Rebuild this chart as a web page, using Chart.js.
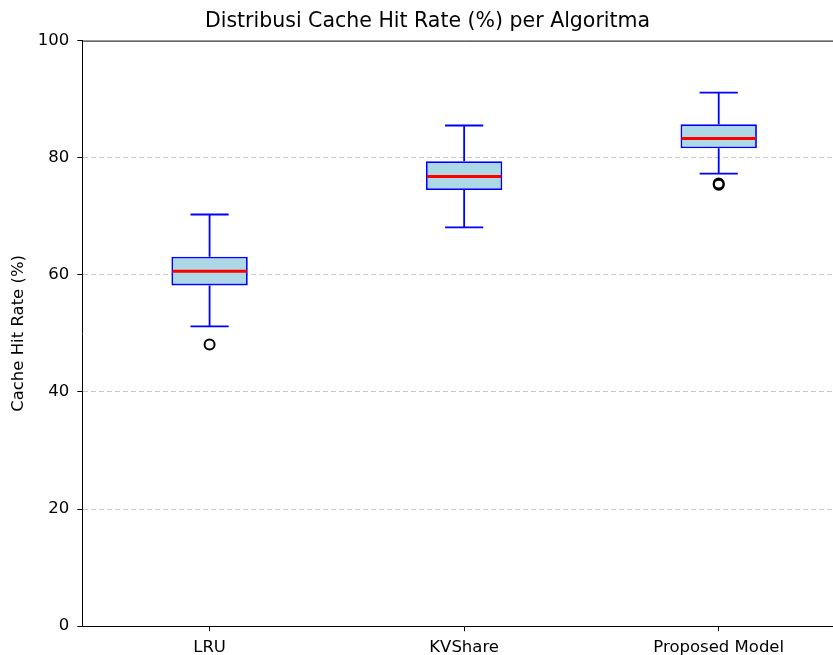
<!DOCTYPE html>
<html>
<head>
<meta charset="utf-8">
<script src="https://cdn.jsdelivr.net/npm/chart.js@4.4.1/dist/chart.umd.min.js"></script>
<style>
  html, body { margin: 0; padding: 0; background: #fff; overflow: hidden; }
  #wrap { width: 833px; height: 655px; overflow: hidden; }
</style>
</head>
<body>
<div id="wrap"><canvas id="boxChart" width="860" height="665"></canvas></div>
<script>
// algorithms on the x axis
var algorithms = ['LRU', 'KVShare', 'Proposed Model'];

// box plot statistics (Cache Hit Rate %)
var whiskerLow  = [51.2, 68.1, 77.3];
var q1          = [58.2, 74.5, 81.6];
var median      = [60.6, 76.8, 83.3];
var q3          = [63.1, 79.4, 85.7];
var whiskerHigh = [70.3, 85.5, 91.1];

// outliers (two close points for the proposed model)
var outliersA = [48.1, null, 75.4];
var outliersB = [null, null, 75.6];

var yTicks = [0, 20, 40, 60, 80, 100];

// draw whiskers, caps, medians and the top spine using the chart scales
var boxExtras = {
    id: 'boxExtras',
    afterDatasetsDraw: function(chart) {
        var c = chart.ctx;
        var xs = chart.scales.x;
        var ys = chart.scales.y;
        var catW = xs.getPixelForValue(1) - xs.getPixelForValue(0);
        var capHalf = catW * 0.075;
        var boxHalf = catW * 0.15;
        c.save();
        for (var i = 0; i < algorithms.length; i++) {
            var cx = xs.getPixelForValue(i);
            c.strokeStyle = 'blue';
            c.lineWidth = 1.8;
            c.beginPath();
            c.moveTo(cx, ys.getPixelForValue(q3[i]));
            c.lineTo(cx, ys.getPixelForValue(whiskerHigh[i]));
            c.moveTo(cx, ys.getPixelForValue(q1[i]));
            c.lineTo(cx, ys.getPixelForValue(whiskerLow[i]));
            c.moveTo(cx - capHalf, ys.getPixelForValue(whiskerHigh[i]));
            c.lineTo(cx + capHalf, ys.getPixelForValue(whiskerHigh[i]));
            c.moveTo(cx - capHalf, ys.getPixelForValue(whiskerLow[i]));
            c.lineTo(cx + capHalf, ys.getPixelForValue(whiskerLow[i]));
            c.stroke();

            c.strokeStyle = 'red';
            c.lineWidth = 3;
            c.beginPath();
            c.moveTo(cx - boxHalf + 1, ys.getPixelForValue(median[i]));
            c.lineTo(cx + boxHalf - 1, ys.getPixelForValue(median[i]));
            c.stroke();
        }
        // top and right spines
        var a = chart.chartArea;
        c.strokeStyle = '#000';
        c.lineWidth = 1;
        c.beginPath();
        c.moveTo(a.left, a.top + 0.5);
        c.lineTo(a.right, a.top + 0.5);
        c.lineTo(a.right, a.bottom);
        c.stroke();
        c.restore();
    }
};

var ctx = document.getElementById('boxChart');

var myChart = new Chart(ctx, {
    type: 'bar',
    data: {
        labels: algorithms,
        datasets: [{
            label: 'box',
            data: q1.map(function(v, i) { return [v, q3[i]]; }),
            backgroundColor: '#add8e6',
            borderColor: 'blue',
            borderWidth: 1.8,
            borderSkipped: false,
            categoryPercentage: 1,
            barPercentage: 0.3,
            order: 2
        }, {
            type: 'line',
            label: 'outliers',
            data: outliersA,
            showLine: false,
            pointStyle: 'circle',
            pointRadius: 5,
            pointBorderWidth: 2,
            pointBorderColor: '#000',
            pointBackgroundColor: 'rgba(0,0,0,0)',
            order: 0
        }, {
            type: 'line',
            label: 'outliers2',
            data: outliersB,
            showLine: false,
            pointStyle: 'circle',
            pointRadius: 5,
            pointBorderWidth: 2,
            pointBorderColor: '#000',
            pointBackgroundColor: 'rgba(0,0,0,0)',
            order: 0
        }]
    },
    options: {
        responsive: false,
        animation: false,
        layout: { padding: { top: 7, right: 14, left: 9, bottom: 0 } },
        plugins: {
            legend: { display: false },
            tooltip: { enabled: false },
            title: {
                display: true,
                text: 'Distribusi Cache Hit Rate (%) per Algoritma',
                color: '#000',
                font: { family: 'DejaVu Sans', size: 20.5, weight: 'normal' },
                padding: { top: 2, bottom: 7 }
            }
        },
        scales: {
            x: {
                border: { color: '#000', width: 1 },
                grid: {
                    offset: false,
                    drawOnChartArea: false,
                    drawTicks: true,
                    tickLength: 5,
                    tickColor: '#000'
                },
                ticks: {
                    color: '#000',
                    padding: 7,
                    font: { family: 'DejaVu Sans', size: 16.5 }
                }
            },
            y: {
                min: 0,
                max: 100,
                afterBuildTicks: function(axis) {
                    axis.ticks = yTicks.map(function(v) { return { value: v }; });
                },
                border: { color: '#000', width: 1, dash: [5, 3] },
                grid: {
                    color: function(c) {
                        var v = c.tick ? c.tick.value : 0;
                        return (v === 0 || v === 100) ? 'rgba(0,0,0,0)' : 'rgba(176,176,176,0.7)';
                    },
                    tickBorderDash: [],
                    tickColor: '#000',
                    tickLength: 5,
                    lineWidth: 1
                },
                ticks: {
                    color: '#000',
                    padding: 8,
                    font: { family: 'DejaVu Sans', size: 16.5 }
                },
                title: {
                    display: true,
                    text: 'Cache Hit Rate (%)',
                    color: '#000',
                    font: { family: 'DejaVu Sans', size: 16.5 },
                    padding: { top: 0, bottom: 1 }
                }
            }
        }
    },
    plugins: [boxExtras]
});
</script>
</body>
</html>
